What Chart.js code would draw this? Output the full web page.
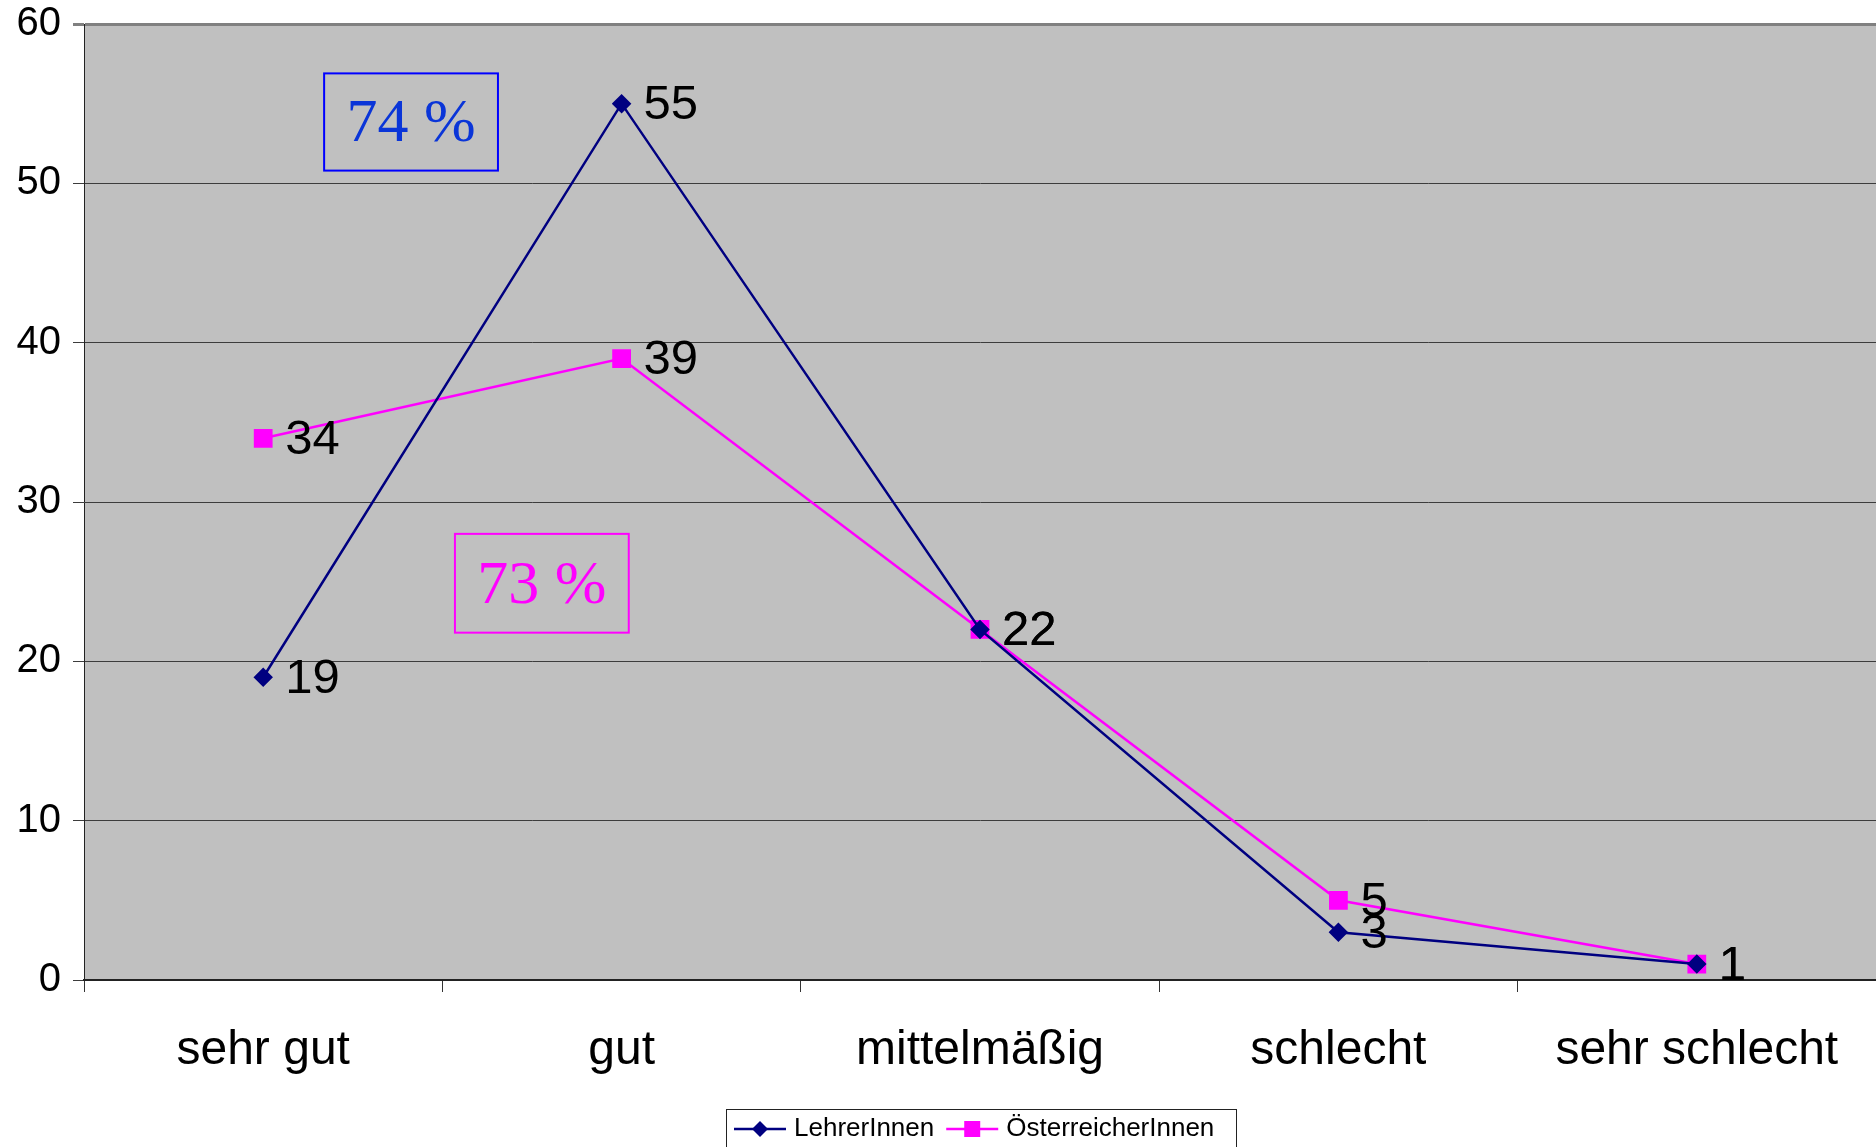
<!DOCTYPE html>
<html>
<head>
<meta charset="utf-8">
<script src="https://cdn.jsdelivr.net/npm/chart.js@4.4.1/dist/chart.umd.min.js"></script>
<style>
  html, body { margin: 0; padding: 0; background: #fff; overflow: hidden; }
  #wrap { width: 1876px; height: 1147px; }
</style>
</head>
<body>
<div id="wrap"><canvas id="chart"></canvas></div>
<script>
// Zufriedenheit: LehrerInnen vs. ÖsterreicherInnen (Angaben in %)

const categories = ["sehr gut", "gut", "mittelmäßig", "schlecht", "sehr schlecht"];
const seriesNames = ["LehrerInnen", "ÖsterreicherInnen"];
const lehrerValues = [19, 55, 22, 3, 1];
const oesterreichValues = [34, 39, 22, 5, 1];
const yMin = 0, yMax = 60, yStep = 10;

// text boxes "74 %" / "73 %" (sums of sehr gut + gut), placed in axis units
const noteTexts = ["74 %", "73 %"];
const noteColors = ["#0a35d8", "#ff00ff"];
const noteBorders = ["#0000ff", "#ff00ff"];
const noteRanges = [
    { x0: 0.17, x1: 0.655, y0: 56.9, y1: 50.8 },
    { x0: 0.535, x1: 1.02, y0: 28.0, y1: 21.8 }
];

const FONT = "'Liberation Sans', Arial, sans-serif";
const NAVY = "#000080";
const MAGENTA = "#ff00ff";

// plot area runs to the right edge of the canvas, like the Excel original
const stretchRight = {
    id: "stretchRight",
    afterLayout(chart) {
        const x = chart.scales.x;
        chart.chartArea.right = chart.width;
        chart.chartArea.width = chart.chartArea.right - chart.chartArea.left;
        x.right = chart.width;
        x.width = x.right - x.left;
        x.configure();
    }
};

const plotBackground = {
    id: "plotBackground",
    beforeDraw(chart) {
        const { ctx, chartArea: a } = chart;
        ctx.save();
        ctx.fillStyle = "#c0c0c0";
        ctx.fillRect(a.left, a.top, a.right - a.left, a.bottom - a.top);
        ctx.restore();
    }
};

const valueLabels = {
    id: "valueLabels",
    afterDatasetsDraw(chart) {
        const ctx = chart.ctx;
        ctx.save();
        ctx.font = "49px " + FONT;
        ctx.fillStyle = "#000";
        ctx.textAlign = "left";
        ctx.textBaseline = "middle";
        chart.data.datasets.forEach((ds, i) => {
            chart.getDatasetMeta(i).data.forEach((pt, j) => {
                ctx.fillText(String(ds.data[j]), pt.x + 22, pt.y + 2);
            });
        });
        ctx.restore();
    }
};

const noteBoxes = {
    id: "noteBoxes",
    afterDatasetsDraw(chart) {
        const { ctx, scales: { x, y } } = chart;
        ctx.save();
        noteTexts.forEach((txt, i) => {
            const r = noteRanges[i];
            const left = x.getPixelForValue(r.x0), right = x.getPixelForValue(r.x1);
            const top = y.getPixelForValue(r.y0), bottom = y.getPixelForValue(r.y1);
            ctx.strokeStyle = noteBorders[i];
            ctx.lineWidth = 2;
            ctx.strokeRect(left, top, right - left, bottom - top);
            ctx.fillStyle = noteColors[i];
            ctx.font = "62px 'Liberation Serif', 'Times New Roman', serif";
            ctx.textAlign = "center";
            ctx.textBaseline = "middle";
            ctx.fillText(txt, (left + right) / 2, (top + bottom) / 2 + 3);
        });
        ctx.restore();
    }
};

function drawMarker(ctx, style, cx, cy, color) {
    ctx.fillStyle = color;
    ctx.beginPath();
    if (style === "rectRot") {
        ctx.moveTo(cx, cy - 8);
        ctx.lineTo(cx + 8, cy);
        ctx.lineTo(cx, cy + 8);
        ctx.lineTo(cx - 8, cy);
        ctx.closePath();
    } else {
        ctx.rect(cx - 8, cy - 8, 16, 16);
    }
    ctx.fill();
}

// Excel-style legend: line with marker, boxed
const boxedLegend = {
    id: "boxedLegend",
    afterDraw(chart) {
        const ctx = chart.ctx;
        const left = 726, top = 1109, width = 510;
        ctx.save();
        ctx.strokeStyle = "#222";
        ctx.lineWidth = 1;
        ctx.strokeRect(left + 0.5, top + 0.5, width, 60);
        ctx.font = "26px " + FONT;
        ctx.textBaseline = "middle";
        ctx.textAlign = "left";
        const cy = 1129;
        let xPos = left + 8;
        chart.data.datasets.forEach(ds => {
            ctx.strokeStyle = ds.borderColor;
            ctx.lineWidth = 2.5;
            ctx.beginPath();
            ctx.moveTo(xPos, cy);
            ctx.lineTo(xPos + 52, cy);
            ctx.stroke();
            drawMarker(ctx, ds.pointStyle, xPos + 26, cy, ds.borderColor);
            ctx.fillStyle = "#000";
            ctx.fillText(ds.label, xPos + 60, cy);
            xPos += 60 + ctx.measureText(ds.label).width + 12;
        });
        ctx.restore();
    }
};

new Chart(document.getElementById("chart"), {
    type: "line",
    data: {
        labels: categories,
        datasets: [
            {
                label: seriesNames[0],
                data: lehrerValues,
                borderColor: NAVY,
                backgroundColor: NAVY,
                borderWidth: 2.5,
                pointStyle: "rectRot",
                pointRadius: 8,
                tension: 0
            },
            {
                label: seriesNames[1],
                data: oesterreichValues,
                borderColor: MAGENTA,
                backgroundColor: MAGENTA,
                borderWidth: 2.5,
                pointStyle: "rect",
                pointRadius: 11.5,
                tension: 0
            }
        ]
    },
    options: {
        responsive: true,
        maintainAspectRatio: false,
        animation: false,
        layout: { padding: { top: 24, right: 0, bottom: 67, left: 0 } },
        plugins: {
            legend: { display: false },
            tooltip: { enabled: false }
        },
        scales: {
            x: {
                offset: true,
                afterFit: s => { s.height = 100; s.paddingRight = 0; s.paddingLeft = 0; },
                grid: {
                    offset: true,
                    drawOnChartArea: false,
                    drawTicks: true,
                    tickLength: 12,
                    color: "#333"
                },
                border: { color: "#222", width: 2 },
                ticks: {
                    color: "#000",
                    font: { family: FONT, size: 48 },
                    padding: 30,
                    maxRotation: 0,
                    autoSkip: false
                }
            },
            y: {
                min: yMin,
                max: yMax,
                afterFit: s => { s.width = 84; s.paddingTop = 0; },
                grid: {
                    color: c => c.tick.value === yMax ? "#808080" : "#3c3c3c",
                    lineWidth: c => c.tick.value === yMax ? 3 : 1,
                    tickLength: 11
                },
                border: { color: "#222", width: 1 },
                ticks: {
                    stepSize: yStep,
                    color: "#000",
                    font: { family: FONT, size: 40 },
                    padding: 12
                }
            }
        }
    },
    plugins: [stretchRight, plotBackground, valueLabels, noteBoxes, boxedLegend]
});
</script>
</body>
</html>
